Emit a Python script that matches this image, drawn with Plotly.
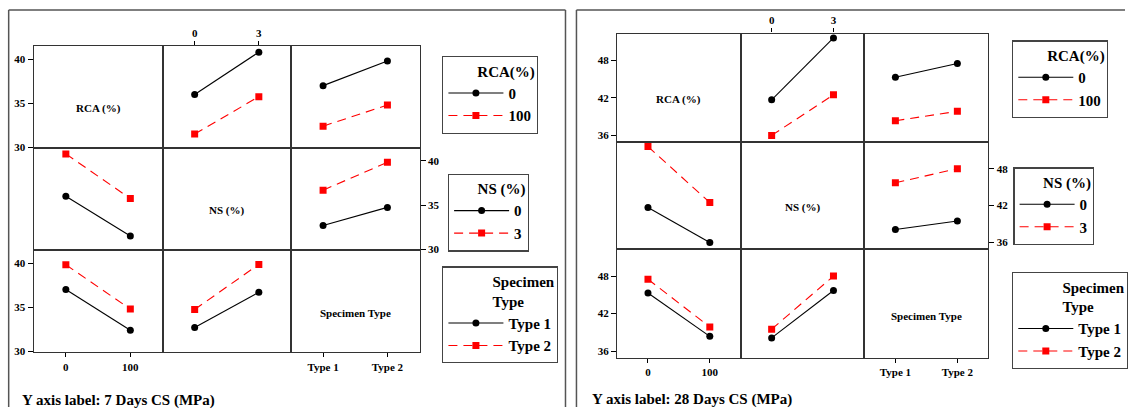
import plotly.graph_objects as go

# ---------------- data ----------------
FACTORS = ["RCA", "NS", "Type"]
RCA_LEVELS = [0, 100]
NS_LEVELS = [0, 3]
TYPE_LEVELS = ["Type 1", "Type 2"]

LEGEND_TITLES = ["RCA(%)", "NS (%)", "Specimen<br>Type"]
DIAG_LABELS = ["RCA (%)", "NS (%)", "Specimen Type"]
RCA_NAMES = ["0", "100"]
NS_NAMES = ["0", "3"]
TYPE_NAMES = ["Type 1", "Type 2"]

# mean compressive strength, rows = level of first factor, cols = level of second factor
CS7_RCA_X_NS = [[36.0, 40.8], [31.5, 35.75]]
CS7_RCA_X_TYPE = [[37.0, 39.8], [32.4, 34.8]]
CS7_NS_X_TYPE = [[32.7, 34.75], [36.7, 39.85]]

CS28_RCA_X_NS = [[41.7, 51.6], [36.0, 42.5]]
CS28_RCA_X_TYPE = [[45.3, 47.5], [38.35, 39.85]]
CS28_NS_X_TYPE = [[38.1, 39.5], [45.7, 48.0]]

CS7_YTICKS = [30, 35, 40]
CS28_YTICKS = [36, 42, 48]
PANEL_LABELS = ["Y axis label: 7 Days CS (MPa)", "Y axis label: 28 Days CS (MPa)"]

# ---------------- layout helpers ----------------
W, H = 1128, 412
SERIF = "Liberation Serif"
LINE = "#333333"
LEVEL_STYLE = [
    dict(color="black", symbol="circle", dash="solid"),
    dict(color="#ff0000", symbol="square", dash="9px,6px"),
]

X_POS = [RCA_LEVELS, NS_LEVELS, [0, 1]]
X_TICKTEXT = [[str(v) for v in RCA_LEVELS], [str(v) for v in NS_LEVELS], TYPE_LEVELS]
X_RANGE = [[-50, 150], [-1.5, 4.5], [-0.5, 1.5]]
LEVEL_NAMES = [RCA_NAMES, NS_NAMES, TYPE_NAMES]


def build_table(rca_ns, rca_type, ns_type):
    t = {}
    for (a, b), m in {(0, 1): rca_ns, (0, 2): rca_type, (1, 2): ns_type}.items():
        t[(a, b)] = m
        t[(b, a)] = [[m[j][i] for j in range(2)] for i in range(2)]
    return t


panels = [
    dict(table=build_table(CS7_RCA_X_NS, CS7_RCA_X_TYPE, CS7_NS_X_TYPE),
         yrange=[29.9, 41.45], yticks=CS7_YTICKS,
         cols=[33.7, 163, 291.7, 420.7], rows=[47, 150, 253.3, 356.7],
         legends=[(443.3, 56.7), (449, 175.7), (443.3, 269.7)],
         label_xy=(20, 405), frame=(8.7, 10, 567)),
    dict(table=build_table(CS28_RCA_X_NS, CS28_RCA_X_TYPE, CS28_NS_X_TYPE),
         yrange=[34.9, 52.3], yticks=CS28_YTICKS,
         cols=[618.7, 742.7, 866.7, 991], rows=[34, 144, 252.3, 362.3],
         legends=[(1014.7, 40.7), (1016, 169.3), (1014.7, 275.3)],
         label_xy=(592, 404), frame=(578, 10, None)),
]

fig = go.Figure()
layout = {}
annotations = []
shapes = []
tickfont = dict(family=SERIF, size=11, color="black", weight="bold")

for p, pan in enumerate(panels):
    cols, rows = pan["cols"], pan["rows"]
    for r in range(3):
        for c in range(3):
            k = p * 9 + r * 3 + c + 1
            xa = "xaxis" if k == 1 else f"xaxis{k}"
            ya = "yaxis" if k == 1 else f"yaxis{k}"
            xr = "x" if k == 1 else f"x{k}"
            yr = "y" if k == 1 else f"y{k}"
            show_x = (r == 2 and c in (0, 2)) or (r == 0 and c == 1)
            show_y = (c == 0 and r in (0, 2)) or (c == 2 and r == 1)
            layout[xa] = dict(
                domain=[cols[c] / W, cols[c + 1] / W], anchor=yr,
                range=X_RANGE[c], tickvals=X_POS[c], ticktext=X_TICKTEXT[c],
                showticklabels=show_x, ticks="outside" if show_x else "",
                ticklen=4, tickcolor="black", tickwidth=1,
                side="top" if (r == 0 and c == 1) else "bottom",
                showgrid=False, zeroline=False, showline=True, mirror=True,
                linecolor=LINE, linewidth=1.2, tickfont=tickfont, fixedrange=True)
            layout[ya] = dict(
                domain=[1 - rows[r + 1] / H, 1 - rows[r] / H], anchor=xr,
                range=pan["yrange"], tickvals=pan["yticks"],
                showticklabels=show_y, ticks="outside" if show_y else "",
                ticklen=5, tickcolor="black", tickwidth=1,
                side="right" if c == 2 else "left",
                showgrid=False, zeroline=False, showline=True, mirror=True,
                linecolor=LINE, linewidth=1.2, tickfont=tickfont, fixedrange=True)
            if r == c:
                # empty trace so the diagonal cell is drawn
                fig.add_trace(go.Scatter(x=[], y=[], xaxis=xr, yaxis=yr,
                                         showlegend=False, hoverinfo="skip"))
                annotations.append(dict(
                    text=DIAG_LABELS[r], xref=f"{xr} domain", yref=f"{yr} domain",
                    x=0.5, y=0.39, showarrow=False, xanchor="center", yanchor="middle",
                    font=dict(family=SERIF, size=11, color="black", weight="bold")))
                continue
            table = pan["table"][(r, c)]
            lg = "legend" if (p * 3 + r) == 0 else f"legend{p * 3 + r + 1}"
            for i in range(2):
                st = LEVEL_STYLE[i]
                fig.add_trace(go.Scatter(
                    x=X_POS[c], y=table[i], xaxis=xr, yaxis=yr,
                    mode="lines+markers", name=LEVEL_NAMES[r][i],
                    legend=lg, legendgroup=f"p{p}r{r}l{i}",
                    showlegend=(c == (1 if r == 0 else 0)),
                    line=dict(color=st["color"], width=1.1, dash=st["dash"]),
                    marker=dict(color=st["color"], symbol=st["symbol"], size=7),
                    hoverinfo="skip"))
    # legends
    for r in range(3):
        lx, ly = pan["legends"][r]
        lg = "legend" if (p * 3 + r) == 0 else f"legend{p * 3 + r + 1}"
        layout[lg] = dict(
            x=lx / W, y=1 - ly / H, xanchor="left", yanchor="top",
            bgcolor="white", bordercolor="#444", borderwidth=1.3,
            font=dict(family=SERIF, size=15, color="black", weight="bold"),
            title=dict(text=LEGEND_TITLES[r], side="top right",
                       font=dict(family=SERIF, size=15, color="black", weight="bold")),
            itemwidth=55, tracegroupgap=0)
    # panel label
    lx, ly = pan["label_xy"]
    annotations.append(dict(
        text=PANEL_LABELS[p], xref="paper", yref="paper", x=lx / W, y=1 - ly / H,
        xanchor="left", yanchor="middle", showarrow=False,
        font=dict(family=SERIF, size=15, color="black", weight="bold")))
    # outer frame (left, top and, if visible, right edges)
    fx0, fy0, fx1 = pan["frame"]
    fline = dict(color="#555", width=1.5)
    shapes.append(dict(type="line", xref="paper", yref="paper",
                       x0=fx0 / W, x1=fx0 / W, y0=0, y1=1 - fy0 / H, line=fline))
    shapes.append(dict(type="line", xref="paper", yref="paper",
                       x0=fx0 / W, x1=(fx1 if fx1 else W) / W, y0=1 - fy0 / H,
                       y1=1 - fy0 / H, line=fline))
    if fx1:
        shapes.append(dict(type="line", xref="paper", yref="paper",
                           x0=fx1 / W, x1=fx1 / W, y0=0, y1=1 - fy0 / H, line=fline))

fig.update_layout(
    width=W, height=H, margin=dict(l=0, r=0, t=0, b=0),
    paper_bgcolor="white", plot_bgcolor="white",
    annotations=annotations, shapes=shapes, **layout)

fig.write_html(
    "out.html",
    config={"displayModeBar": False},
    post_script=("document.body.style.margin='0';"
                 "document.body.style.overflow='hidden';"
                 "document.documentElement.style.overflow='hidden';"))
